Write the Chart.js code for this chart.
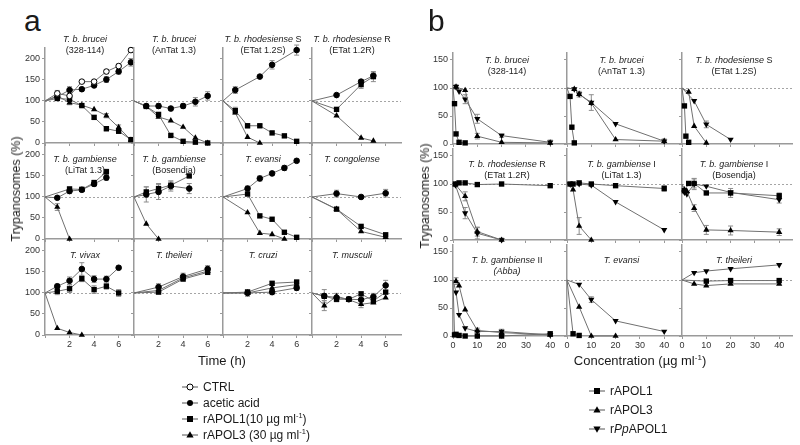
<!DOCTYPE html>
<html>
<head>
<meta charset="utf-8">
<script src="https://cdn.jsdelivr.net/npm/chart.js@4.4.1/dist/chart.umd.min.js"></script>
<style>
  body { margin: 0; background: #fff; }
  #fig { position: relative; width: 800px; height: 445px; overflow: hidden; font-family: Arial, "Liberation Sans", sans-serif; color: #1a1a1a; }
  #fig canvas { position: absolute; }
  .txt { position: absolute; white-space: nowrap; }
  .ttl { position: absolute; white-space: nowrap; font-size: 9px; line-height: 11px; text-align: center; transform: translateX(-50%); color: #222; }
  .leg { position: absolute; font-size: 12px; line-height: 14px; white-space: nowrap; height: 14px; }
  .leg svg { vertical-align: top; margin-right: 5px; }
  sup { font-size: 0.62em; vertical-align: super; line-height: 0; }
</style>
</head>
<body>
<div id="fig"></div>
<script>
// ---------- panel a : time course (h), trypanosomes (%) ----------
var a328_x = [0, 1, 2, 3, 4, 5, 6, 7]
var a328_ctrl = [100, 118, 112, 146, 146, 170, 183, 221]
var a328_ctrlErr = [0, 7, 5, 4, 4, 5, 5, 5]
var a328_acet = [100, 110, 126, 128, 137, 151, 170, 192]
var a328_acetErr = [0, 5, 8, 4, 4, 7, 6, 9]
var a328_apol1 = [100, 106, 104, 89, 61, 34, 28, 8]
var a328_apol1Err = [0, 4, 4, 4, 4, 5, 5, 3]
var a328_apol3 = [100, 112, 96, 90, 80, 65, 37, 7]
var a328_apol3Err = [0, 0, 5, 0, 0, 5, 6, 0]

var aAnTat_x = [0, 1, 2, 3, 4, 5, 6]
var aAnTat_acet = [100, 88, 88, 82, 88, 98, 112]
var aAnTat_acetErr = [0, 0, 6, 5, 6, 10, 10]
var aAnTat_apol1 = [100, 87, 68, 18, 4, 2, 0]
var aAnTat_apol3 = [100, 87, 62, 53, 38, 12, 0]

var aRhoS_x = [0, 1, 2, 3, 4, 5, 6]
var aRhoS_acet = [100, 126, null, 158, 186, null, 221]
var aRhoS_acetErr = [0, 8, 0, 0, 10, 0, 12]
var aRhoS_apol1 = [100, 77, 41, 41, 24, 17, 4]
var aRhoS_apol1Err = [0, 8, 5, 3, 0, 0, 0]
var aRhoS_apol3 = [100, 72, 14, 0, null, null, null]

var aRhoR_x = [0, 2, 4, 5]
var aRhoR_acet = [100, 114, 146, 160]
var aRhoR_acetErr = [0, 0, 5, 7]
var aRhoR_apol1 = [100, 80, 139, 158]
var aRhoR_apol1Err = [0, 0, 9, 12]
var aRhoR_apol3 = [100, 65, 12, 5]

var aLiTat_x = [0, 1, 2, 3, 4, 5]
var aLiTat_acet = [100, 98, 114, 117, 131, 146]
var aLiTat_acetErr = [0, 0, 6, 0, 6, 6]
var aLiTat_apol1 = [100, null, 119, 118, 134, 160]
var aLiTat_apol1Err = [0, 0, 5, 5, 6, 6]
var aLiTat_apol3 = [100, 76, 0, null, null, null]
var aLiTat_apol3Err = [0, 8, 0, 0, 0, 0]

var aBos_x = [0, 1, 2, 3, 4.5]
var aBos_acet = [100, 106, 112, 126, 120]
var aBos_acetErr = [0, 18, 18, 12, 12]
var aBos_apol1 = [100, 112, 120, 128, 150]
var aBos_apol1Err = [0, 12, 12, 10, 0]
var aBos_apol3 = [100, 36, 0, null, null]

var aEva_x = [0, 2, 3, 4, 5, 6]
var aEva_acet = [100, 120, 144, 156, 169, 186]
var aEva_acetErr = [0, 6, 6, 4, 6, 4]
var aEva_apol1 = [100, 107, 55, 47, 16, 4]
var aEva_apol3 = [100, 63, 14, 11, 0, null]

var aCon_x = [0, 2, 4, 6]
var aCon_acet = [100, 108, 100, 109]
var aCon_acetErr = [0, 8, 4, 9]
var aCon_apol1 = [100, 71, 30, 10]
var aCon_apol3 = [100, 71, 18, 4]

var aViv_x = [0, 1, 2, 3, 4, 5, 6]
var aViv_acet = [100, 116, 129, 157, 133, 133, 160]
var aViv_acetErr = [0, 5, 9, 15, 8, 7, 4]
var aViv_apol1 = [100, 104, 110, 134, 108, 116, 100]
var aViv_apol1Err = [0, 8, 9, 7, 9, 7, 8]
var aViv_apol3 = [100, 16, 6, 0, null, null, null]

var aThe_x = [0, 2, 4, 6]
var aThe_acet = [100, 114, 139, 157]
var aThe_acetErr = [0, 8, 8, 8]
var aThe_apol1 = [100, 102, 133, 149]
var aThe_apol3 = [100, 106, 136, 152]

var aCru_x = [0, 2, 4, 6]
var aCru_acet = [100, 100, 102, 112]
var aCru_acetErr = [0, 8, 6, 6]
var aCru_apol1 = [100, 102, 123, 126]
var aCru_apol1Err = [0, 6, 4, 4]
var aCru_apol3 = [100, 100, 112, 120]

var aMus_x = [0, 1, 2, 3, 4, 5, 6]
var aMus_acet = [100, 93, 89, 85, 84, 91, 118]
var aMus_acetErr = [0, 15, 10, 5, 12, 8, 12]
var aMus_apol1 = [100, 92, 85, 85, 98, 81, 102]
var aMus_apol3 = [100, 70, 92, 84, 73, 77, 89]
var aMus_apol3Err = [0, 12, 0, 0, 8, 0, 0]

// ---------- panel b : concentration (ug/ml), trypanosomes (%) ----------
var b328_x = [0, 0.625, 1.25, 2.5, 5, 10, 20, 40]
var b328_r1 = [100, 72, 18, 3, 2, null, null, null]
var b328_r3 = [100, null, 102, null, 96, 14, 3, 2]
var b328_r3Err = [0, 0, 0, 0, 0, 5, 0, 3]
var b328_pp = [100, null, 102, 94, 80, 45, 15, 3]
var b328_ppErr = [0, 0, 4, 0, 8, 8, 3, 4]

var bAnTat_x = [0, 1.25, 2, 3, 5, 10, 20, 40]
var bAnTat_r1 = [100, 85, 30, 2, null, null, null, null]
var bAnTat_r3 = [100, null, null, 98, 89, 73, 8, 5]
var bAnTat_pp = [100, null, null, 98, 89, 74, 36, 5]
var bAnTat_ppErr = [0, 0, 0, 0, 5, 14, 0, 4]

var bRhoS_x = [0, 1, 1.6, 2.75, 5, 10, 20]
var bRhoS_r1 = [100, 68, 14, 3, null, null, null]
var bRhoS_r3 = [100, null, null, 93, 32, 2, null]
var bRhoS_pp = [100, null, null, null, 77, 35, 8]
var bRhoS_ppErr = [0, 0, 0, 0, 0, 6, 0]

var bRhoR_x = [0, 1, 2.5, 5, 10, 20, 40]
var bRhoR_r1 = [100, 100, 102, 102, 99, 100, 97]
var bRhoR_r3 = [100, 99, null, 78, 15, 0, null]
var bRhoR_r3Err = [0, 0, 0, 8, 8, 3, 0]
var bRhoR_pp = [100, 98, null, 48, 12, 0, null]
var bRhoR_ppErr = [0, 0, 0, 10, 10, 3, 0]

var bLiTat_x = [0, 1.25, 2.5, 5, 10, 20, 40]
var bLiTat_r1 = [100, 100, 100, 102, 100, 97, 92]
var bLiTat_r1Err = [0, 0, 0, 0, 0, 0, 5]
var bLiTat_r3 = [100, null, 90, 25, 0, null, null]
var bLiTat_r3Err = [0, 0, 0, 15, 0, 0, 0]
var bLiTat_pp = [100, 100, null, 100, 98, 68, 18]

var bBos_x = [0, 1, 2, 2.75, 5, 10, 20, 40]
var bBos_r1 = [100, 88, null, 101, 101, 84, 84, 79]
var bBos_r1Err = [0, 0, 0, 0, 8, 0, 8, 5]
var bBos_r3 = [100, 90, 87, null, 57, 18, 17, 14]
var bBos_r3Err = [0, 0, 0, 0, 6, 8, 8, 6]
var bBos_pp = [100, 85, 82, null, 100, 96, 85, 72]
var bBos_ppErr = [0, 0, 0, 0, 10, 0, 0, 6]

var bAbba_x = [0, 0.625, 1.25, 2.5, 5, 10, 20, 40]
var bAbba_r1 = [100, 2, 3, 1, 0, 0, 0, 4]
var bAbba_r3 = [100, null, 98, 90, 47, 10, 6, 2]
var bAbba_r3Err = [0, 0, 6, 0, 0, 4, 0, 0]
var bAbba_pp = [100, null, 78, 38, 14, 8, 8, 2]
var bAbba_ppErr = [0, 0, 0, 0, 0, 0, 4, 0]

var bEva_x = [0, 2.5, 5, 10, 20, 40]
var bEva_r1 = [100, 4, 1, null, null, null]
var bEva_r3 = [100, null, 52, 0, 0, null]
var bEva_pp = [100, null, 92, 65, 27, 8]
var bEva_ppErr = [0, 0, 0, 5, 0, 0]

var bThe_x = [0, 5, 10, 20, 40]
var bThe_r1 = [100, null, 98, 99, 99]
var bThe_r3 = [100, 93, 90, 93, 93]
var bThe_pp = [100, 113, 116, 120, 127]

var aTitles = [
  '<i>T. b. brucei</i><br>(328-114)', '<i>T. b. brucei</i><br>(AnTat 1.3)',
  '<i>T. b. rhodesiense</i> S<br>(ETat 1.2S)', '<i>T. b. rhodesiense</i> R<br>(ETat 1.2R)',
  '<i>T. b. gambiense</i><br>(LiTat 1.3)', '<i>T. b. gambiense</i><br>(Bosendja)',
  '<i>T. evansi</i>', '<i>T. congolense</i>',
  '<i>T. vivax</i>', '<i>T. theileri</i>', '<i>T. cruzi</i>', '<i>T. musculi</i>'
]
var bTitles = [
  '<i>T. b. brucei</i><br>(328-114)', '<i>T. b. brucei</i><br>(AnTaT 1.3)',
  '<i>T. b. rhodesiense</i> S<br>(ETat 1.2S)', '<i>T. b. rhodesiense</i> R<br>(ETat 1.2R)',
  '<i>T. b. gambiense</i> I<br>(LiTat 1.3)', '<i>T. b. gambiense</i> I<br>(Bosendja)',
  '<i>T. b. gambiense</i> II<br><i>(Abba)</i>', '<i>T. evansi</i>', '<i>T. theileri</i>'
]
var aLegend = ['CTRL', 'acetic acid', 'rAPOL1(10 µg ml<sup>-1</sup>)', 'rAPOL3 (30 µg ml<sup>-1</sup>)']
var bLegend = ['rAPOL1', 'rAPOL3', 'r<i>Pp</i>APOL1']

// ---------- drawing ----------
Chart.defaults.font.family = 'Arial, "Liberation Sans", sans-serif'
Chart.defaults.font.size = 9
Chart.defaults.color = '#333'
var fig = document.getElementById('fig')

var styles = {
  ctrl: { style: 'circle', r: 2.8, fill: '#fff', bw: 1 },
  acet: { style: 'circle', r: 2.8, fill: '#000', bw: 1 },
  apol1: { style: 'rect', r: 3.8, fill: '#000', bw: 0 },
  apol3: { style: 'triangle', r: 3.6, fill: '#000', bw: 0 },
  pp: { style: 'triangle', r: 3.6, fill: '#000', bw: 0, rot: 180 }
}

var refLine = {
  id: 'refLine',
  beforeDatasetsDraw: function (chart) {
    var c = chart.ctx, a = chart.chartArea
    var y = Math.round(chart.scales.y.getPixelForValue(100)) + 0.5
    c.save()
    c.strokeStyle = '#a5a5a5'
    c.lineWidth = 1
    c.setLineDash([2, 2])
    c.beginPath(); c.moveTo(a.left, y); c.lineTo(a.right, y); c.stroke()
    c.restore()
  }
}

var errBars = {
  id: 'errBars',
  beforeDatasetsDraw: function (chart) {
    var c = chart.ctx, ys = chart.scales.y
    c.save()
    c.strokeStyle = '#8c8c8c'
    c.lineWidth = 1
    chart.data.datasets.forEach(function (ds, i) {
      var meta = chart.getDatasetMeta(i)
      ds.data.forEach(function (p, j) {
        if (!p.e) return
        var x = meta.data[j].x
        var y1 = ys.getPixelForValue(Math.max(0, p.y - p.e)), y2 = ys.getPixelForValue(p.y + p.e)
        c.beginPath()
        c.moveTo(x, y1); c.lineTo(x, y2)
        c.moveTo(x - 2.5, y1); c.lineTo(x + 2.5, y1)
        c.moveTo(x - 2.5, y2); c.lineTo(x + 2.5, y2)
        c.stroke()
      })
    })
    c.restore()
  }
}

function pts(xs, ys, es) {
  var out = []
  xs.forEach(function (x, i) {
    if (ys[i] != null) out.push({ x: x, y: ys[i], e: es ? es[i] : 0 })
  })
  return out
}

function makePanel(p) {
  var L = p.yLabels ? p.padL : 6, T = 9, R = 7, B = p.xLabels ? 16 : 6
  var cv = document.createElement('canvas')
  cv.width = L + p.w + R
  cv.height = T + p.h + B
  cv.style.left = (p.left - L) + 'px'
  cv.style.top = (p.top - T) + 'px'
  fig.appendChild(cv)

  var datasets = p.series.map(function (s) {
    var st = styles[s.kind]
    return {
      data: pts(p.x, s.y, s.e),
      borderColor: '#707070',
      borderWidth: 1,
      pointStyle: st.style,
      pointRotation: st.rot || 0,
      pointRadius: function (ctx) { return ctx.raw && ctx.raw.x === 0 ? 0 : st.r },
      pointBackgroundColor: st.fill,
      pointBorderColor: '#000',
      pointBorderWidth: st.bw,
      tension: 0,
      clip: false
    }
  })

  new Chart(cv, {
    type: 'line',
    data: { datasets: datasets },
    options: {
      responsive: false,
      devicePixelRatio: 1,
      animation: false,
      events: [],
      layout: { padding: { left: 0, top: T, right: R, bottom: 0 } },
      plugins: { legend: { display: false }, tooltip: { enabled: false } },
      scales: {
        x: {
          type: 'linear', min: 0, max: p.xmax,
          ticks: {
            display: p.xLabels, stepSize: p.xstep, includeBounds: false, padding: 1,
            maxRotation: 0, autoSkip: false, color: '#333',
            callback: function (v) { return (v === 0 && p.hideZero) ? '' : v }
          },
          grid: { drawOnChartArea: false, drawTicks: true, tickLength: 3, color: '#9a9a9a' },
          border: { color: '#9a9a9a', width: 1.5 },
          afterFit: function (s) { s.height = B; s.paddingLeft = 0; s.paddingRight = 0 }
        },
        y: {
          min: 0, max: p.ymax,
          ticks: { display: p.yLabels, stepSize: p.ystep, includeBounds: false, padding: 2, color: '#333' },
          grid: { drawOnChartArea: false, drawTicks: true, tickLength: 3, color: '#9a9a9a' },
          border: { color: '#9a9a9a', width: 1.5 },
          afterFit: function (s) { s.width = L; s.paddingTop = 0; s.paddingBottom = 0 }
        }
      }
    },
    plugins: [refLine, errBars]
  })
}

function addText(html, cls, left, top, css) {
  var d = document.createElement('div')
  d.className = cls
  d.innerHTML = html
  d.style.left = left + 'px'
  d.style.top = top + 'px'
  if (css) Object.keys(css).forEach(function (k) { d.style[k] = css[k] })
  fig.appendChild(d)
}

// panel a grid
var aSeries = [
  [a328_x, [['ctrl', a328_ctrl, a328_ctrlErr], ['acet', a328_acet, a328_acetErr], ['apol1', a328_apol1, a328_apol1Err], ['apol3', a328_apol3, a328_apol3Err]]],
  [aAnTat_x, [['acet', aAnTat_acet, aAnTat_acetErr], ['apol1', aAnTat_apol1], ['apol3', aAnTat_apol3]]],
  [aRhoS_x, [['acet', aRhoS_acet, aRhoS_acetErr], ['apol1', aRhoS_apol1, aRhoS_apol1Err], ['apol3', aRhoS_apol3]]],
  [aRhoR_x, [['acet', aRhoR_acet, aRhoR_acetErr], ['apol1', aRhoR_apol1, aRhoR_apol1Err], ['apol3', aRhoR_apol3]]],
  [aLiTat_x, [['acet', aLiTat_acet, aLiTat_acetErr], ['apol1', aLiTat_apol1, aLiTat_apol1Err], ['apol3', aLiTat_apol3, aLiTat_apol3Err]]],
  [aBos_x, [['acet', aBos_acet, aBos_acetErr], ['apol1', aBos_apol1, aBos_apol1Err], ['apol3', aBos_apol3]]],
  [aEva_x, [['acet', aEva_acet, aEva_acetErr], ['apol1', aEva_apol1], ['apol3', aEva_apol3]]],
  [aCon_x, [['acet', aCon_acet, aCon_acetErr], ['apol1', aCon_apol1], ['apol3', aCon_apol3]]],
  [aViv_x, [['acet', aViv_acet, aViv_acetErr], ['apol1', aViv_apol1, aViv_apol1Err], ['apol3', aViv_apol3]]],
  [aThe_x, [['acet', aThe_acet, aThe_acetErr], ['apol1', aThe_apol1], ['apol3', aThe_apol3]]],
  [aCru_x, [['acet', aCru_acet, aCru_acetErr], ['apol1', aCru_apol1, aCru_apol1Err], ['apol3', aCru_apol3]]],
  [aMus_x, [['acet', aMus_acet, aMus_acetErr], ['apol1', aMus_apol1], ['apol3', aMus_apol3, aMus_apol3Err]]]
]
var aCols = [45, 134, 223, 312], aRows = [48, 144, 240], aTitleTop = [34, 154, 250]
aSeries.forEach(function (ps, i) {
  var col = i % 4, row = Math.floor(i / 4)
  makePanel({
    left: aCols[col], top: aRows[row], w: 89, h: 95, padL: 45,
    xmax: 7.25, ymax: 226, xstep: 2, ystep: 50, hideZero: true,
    xLabels: row === 2, yLabels: col === 0,
    x: ps[0],
    series: ps[1].map(function (s) { return { kind: s[0], y: s[1], e: s[2] } })
  })
  addText(aTitles[i], 'ttl', aCols[col] + 40, aTitleTop[row])
})

// panel b grid
var bSeries = [
  [b328_x, [['apol1', b328_r1], ['apol3', b328_r3, b328_r3Err], ['pp', b328_pp, b328_ppErr]]],
  [bAnTat_x, [['apol1', bAnTat_r1], ['apol3', bAnTat_r3], ['pp', bAnTat_pp, bAnTat_ppErr]]],
  [bRhoS_x, [['apol1', bRhoS_r1], ['apol3', bRhoS_r3], ['pp', bRhoS_pp, bRhoS_ppErr]]],
  [bRhoR_x, [['apol1', bRhoR_r1], ['apol3', bRhoR_r3, bRhoR_r3Err], ['pp', bRhoR_pp, bRhoR_ppErr]]],
  [bLiTat_x, [['apol1', bLiTat_r1, bLiTat_r1Err], ['apol3', bLiTat_r3, bLiTat_r3Err], ['pp', bLiTat_pp]]],
  [bBos_x, [['apol1', bBos_r1, bBos_r1Err], ['apol3', bBos_r3, bBos_r3Err], ['pp', bBos_pp, bBos_ppErr]]],
  [bAbba_x, [['apol1', bAbba_r1], ['apol3', bAbba_r3, bAbba_r3Err], ['pp', bAbba_pp, bAbba_ppErr]]],
  [bEva_x, [['apol1', bEva_r1], ['apol3', bEva_r3], ['pp', bEva_pp, bEva_ppErr]]],
  [bThe_x, [['apol1', bThe_r1], ['apol3', bThe_r3], ['pp', bThe_pp]]]
]
var bCols = [453, 567, 682], bW = [114, 115, 110], bRows = [53, 149, 245], bTitleTop = [55, 159, 255]
bSeries.forEach(function (ps, i) {
  var col = i % 3, row = Math.floor(i / 3)
  makePanel({
    left: bCols[col], top: bRows[row], w: bW[col], h: 91, padL: 46,
    xmax: bW[col] / 2.43, ymax: 162.5, xstep: 10, ystep: 50, hideZero: false,
    xLabels: row === 2, yLabels: col === 0,
    x: ps[0],
    series: ps[1].map(function (s) { return { kind: s[0], y: s[1], e: s[2] } })
  })
  addText(bTitles[i], 'ttl', bCols[col] + bW[col] / 2 - 3, bTitleTop[row])
})

// axis titles and panel letters
addText('a', 'txt', 24, 6, { fontSize: '30px', lineHeight: '30px' })
addText('b', 'txt', 428, 6, { fontSize: '30px', lineHeight: '30px' })
addText('Trypanosomes (%)', 'txt', 16, 189, { fontSize: '12.5px', transform: 'translate(-50%,-50%) rotate(-90deg)' })
addText('Trypanosomes (%)', 'txt', 425, 196, { fontSize: '12.5px', transform: 'translate(-50%,-50%) rotate(-90deg)' })
addText('Time (h)', 'txt', 222, 353, { fontSize: '13px', transform: 'translateX(-50%)' })
addText('Concentration (µg ml<sup>-1</sup>)', 'txt', 640, 353, { fontSize: '13px', transform: 'translateX(-50%)' })

// legends
function legendSymbol(kind) {
  var m
  if (kind === 'ctrl') m = '<circle cx="8" cy="7" r="3" fill="#fff" stroke="#000" stroke-width="1"/>'
  else if (kind === 'acet') m = '<circle cx="8" cy="7" r="3" fill="#000"/>'
  else if (kind === 'apol1') m = '<rect x="5" y="4" width="6" height="6" fill="#000"/>'
  else if (kind === 'apol3') m = '<polygon points="8,3.2 11.6,9.6 4.4,9.6" fill="#000"/>'
  else m = '<polygon points="8,10.8 11.6,4.4 4.4,4.4" fill="#000"/>'
  return '<svg width="16" height="14"><line x1="0" y1="7" x2="16" y2="7" stroke="#555"/>' + m + '</svg>'
}
var aKinds = ['ctrl', 'acet', 'apol1', 'apol3'], bKinds = ['apol1', 'apol3', 'pp']
aLegend.forEach(function (t, i) { addText(legendSymbol(aKinds[i]) + t, 'leg', 182, 380 + i * 16) })
bLegend.forEach(function (t, i) { addText(legendSymbol(bKinds[i]) + t, 'leg', 589, 384 + i * 19) })
</script>
</body>
</html>
